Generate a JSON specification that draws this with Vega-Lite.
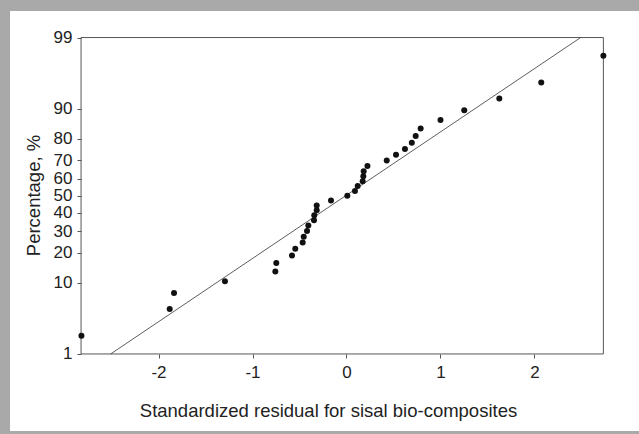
{
  "$schema": "https://vega.github.io/schema/vega-lite/v6.json",
  "width": 629,
  "height": 420,
  "autosize": {"type": "none"},
  "padding": {"left": 10, "top": 11, "right": 0, "bottom": 3},
  "background": "#a9a9a9",
  "config": {
    "view": {"fill": "white", "stroke": null},
    "font": "Liberation Sans"
  },
  "datasets": {
    "frame": [{"x1": -2.824, "x2": 2.733, "z1": -2.326, "z2": 2.326}],
    "fit": [
      {"residual": -2.509, "score": -2.326},
      {"residual": 2.491, "score": 2.326}
    ],
    "points": [
      {"residual": -2.82, "score": -2.058},
      {"residual": -1.881, "score": -1.664},
      {"residual": -1.835, "score": -1.43},
      {"residual": -1.293, "score": -1.256},
      {"residual": -0.757, "score": -1.113},
      {"residual": -0.747, "score": -0.99},
      {"residual": -0.58, "score": -0.88},
      {"residual": -0.545, "score": -0.781},
      {"residual": -0.466, "score": -0.688},
      {"residual": -0.455, "score": -0.601},
      {"residual": -0.42, "score": -0.518},
      {"residual": -0.406, "score": -0.439},
      {"residual": -0.346, "score": -0.362},
      {"residual": -0.343, "score": -0.287},
      {"residual": -0.317, "score": -0.214},
      {"residual": -0.317, "score": -0.142},
      {"residual": -0.165, "score": -0.071},
      {"residual": 0.009, "score": 0.0},
      {"residual": 0.09, "score": 0.071},
      {"residual": 0.119, "score": 0.142},
      {"residual": 0.172, "score": 0.214},
      {"residual": 0.179, "score": 0.287},
      {"residual": 0.183, "score": 0.362},
      {"residual": 0.223, "score": 0.439},
      {"residual": 0.428, "score": 0.518},
      {"residual": 0.527, "score": 0.601},
      {"residual": 0.622, "score": 0.688},
      {"residual": 0.695, "score": 0.781},
      {"residual": 0.736, "score": 0.88},
      {"residual": 0.789, "score": 0.99},
      {"residual": 1.0, "score": 1.113},
      {"residual": 1.253, "score": 1.256},
      {"residual": 1.626, "score": 1.43},
      {"residual": 2.072, "score": 1.664},
      {"residual": 2.733, "score": 2.058}
    ]
  },
  "layer": [
    {
      "data": {"name": "frame"},
      "mark": {"type": "rect", "fill": "white", "fillOpacity": 0, "stroke": "#555555", "strokeWidth": 1},
      "encoding": {
        "x": {
          "field": "x1", "type": "quantitative",
          "scale": {"domain": [-3.58, 3.112], "nice": false, "zero": false},
          "axis": {
            "values": [-2, -1, 0, 1, 2],
            "labelExpr": "toString(datum.value)",
            "offset": -77,
            "domain": false,
            "grid": false,
            "tickSize": 4,
            "tickColor": "#555555",
            "labelFontSize": 17,
            "labelColor": "#222222",
            "labelPadding": 6,
            "title": "Standardized residual for sisal bio-composites",
            "titleFontSize": 18.5,
            "titleFontWeight": "normal",
            "titleColor": "#222222",
            "titleX": 318,
            "titleY": 62,
            "titleAlign": "center",
            "titleBaseline": "alphabetic"
          }
        },
        "x2": {"field": "x2"},
        "y": {
          "field": "z1", "type": "quantitative",
          "scale": {"domain": [-3.4585, 2.7161], "nice": false, "zero": false},
          "axis": {
            "values": [-2.3263, -1.2816, -0.8416, -0.5244, -0.2533, 0, 0.2533, 0.5244, 0.8416, 1.2816, 2.3263],
            "labelExpr": "datum.value < -2 ? '1' : datum.value < -1 ? '10' : datum.value < -0.7 ? '20' : datum.value < -0.4 ? '30' : datum.value < -0.1 ? '40' : datum.value < 0.1 ? '50' : datum.value < 0.4 ? '60' : datum.value < 0.7 ? '70' : datum.value < 1 ? '80' : datum.value < 2 ? '90' : '99'",
            "offset": -71,
            "domain": false,
            "grid": false,
            "tickSize": 4,
            "tickColor": "#555555",
            "labelFontSize": 17,
            "labelColor": "#222222",
            "labelPadding": 5,
            "title": "Percentage, %",
            "titleFontSize": 18.5,
            "titleFontWeight": "normal",
            "titleColor": "#222222",
            "titleAngle": -90,
            "titleX": -48,
            "titleY": 184,
            "titleAlign": "center",
            "titleBaseline": "middle"
          }
        },
        "y2": {"field": "z2"}
      }
    },
    {
      "data": {"name": "fit"},
      "mark": {"type": "line", "color": "#333333", "strokeWidth": 0.8},
      "encoding": {
        "x": {"field": "residual", "type": "quantitative"},
        "y": {"field": "score", "type": "quantitative"}
      }
    },
    {
      "data": {"name": "points"},
      "mark": {"type": "circle", "color": "#111111", "opacity": 1, "size": 36},
      "encoding": {
        "x": {"field": "residual", "type": "quantitative"},
        "y": {"field": "score", "type": "quantitative"}
      }
    }
  ]
}
